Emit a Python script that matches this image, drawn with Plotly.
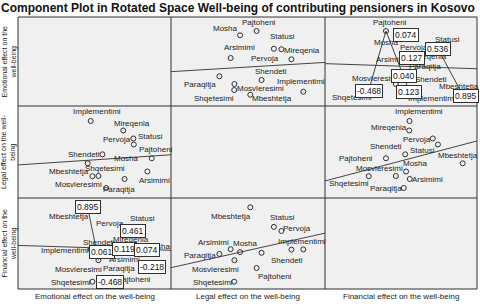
import numpy as np
import plotly.graph_objects as go

# ---------------- data (component loadings) ----------------
names = ["Pajtoheni", "Mosha", "Statusi", "Pervoja", "Arsimimi", "Mireqenia",
         "Paraqitja", "Shendeti", "Mosvleresimi", "Shqetesimi", "Implementimi", "Mbeshtetja"]
emotional = [0.850, 0.781, 0.565, 0.558, 0.418, 0.397, 0.125, 0.066, 0.002, -0.094, -0.121, -0.169]
legal = [0.238, 0.021, 0.464, 0.563, -0.102, 0.694, -0.250, 0.303, -0.053, -0.056, 0.850, 0.155]
financial = [-0.218, 0.074, 0.536, 0.461, 0.127, 0.119, 0.040, 0.061, -0.075, -0.468, 0.123, 0.895]

var_titles = ["Emotional effect on the well-being", "Legal effect on the well-being",
              "Financial effect on the well-being"]
row_titles = ["Emotional effect on the<br>well-being", "Legal effect on the well-<br>being",
              "Financial effect on the<br>well-being"]
title = "Component Plot in Rotated Space Well-being of contributing pensioners in Kosovo"

# ---------------- styling / layout ----------------
W, H = 480, 308
col_px = [(18, 171), (171, 325), (325, 477)]
row_px = [(17, 106), (106, 198), (198, 289)]
col_range = [[-1.278, 1.157], [-0.884, 1.134], [-1.103, 1.103]]
row_range = [[-0.35, 1.074], [-0.414, 1.096], [-0.602, 1.065]]

data = [emotional, legal, financial]
idx = {n: i for i, n in enumerate(names)}

# label offsets (label centre relative to its point, in pixels, +y = down) per panel (row, col)
label_off = {
    (0, 1): {"Pajtoheni": (2, -9), "Mosha": (-15, -7), "Statusi": (9, -12), "Mireqenia": (11, -9),
             "Arsimimi": (9, -11), "Pervoja": (-16, 9), "Shendeti": (9, -9), "Paraqitja": (-19, 8),
             "Mosvleresimi": (26, 4), "Implementimi": (-2, -10), "Shqetesimi": (-20, 8),
             "Mbeshtetja": (22, 4)},
    (0, 2): {"Pajtoheni": (4, -9), "Mosha": (-20, 7), "Statusi": (10, -9), "Pervoja": (-19, -2),
             "Arsimimi": (-18, 1), "Mireqenia": (20, -3), "Paraqitja": (21, -10), "Shendeti": (26, -1),
             "Mosvleresimi": (-20, -6), "Shqetesimi": (-17, 7), "Implementimi": (23, 7),
             "Mbeshtetja": (-4, -8)},
    (1, 0): {"Implementimi": (6, -9), "Mireqenia": (9, -7), "Pervoja": (-16, 1), "Statusi": (17, -8),
             "Pajtoheni": (4, -9), "Shendeti": (-18, 0), "Mosha": (-21, -13), "Mbeshtetja": (-19, 8),
             "Shqetesimi": (13, -8), "Mosvleresimi": (-20, 8), "Arsimimi": (30, 2),
             "Paraqitja": (13, 1)},
    (1, 2): {"Implementimi": (10, -9), "Mireqenia": (-20, -3), "Pervoja": (-16, 1), "Statusi": (-15, 6),
             "Shendeti": (-19, -8), "Pajtoheni": (-30, 0), "Mbeshtetja": (-5, -8), "Mosha": (9, -8),
             "Mosvleresimi": (-16, -8), "Shqetesimi": (-20, 7), "Arsimimi": (18, 1),
             "Paraqitja": (-18, 0)},
    (2, 0): {"Mbeshtetja": (-19, 9), "Statusi": (9, -8), "Pervoja": (-23, -7), "Shendeti": (-3, -10),
             "Mireqenia": (8, -10), "Mosha": (11, -6), "Implementimi": (-26, 1), "Arsimimi": (0, 10),
             "Mosvleresimi": (-20, 9), "Paraqitja": (13, 15), "Pajtoheni": (-18, 11),
             "Shqetesimi": (-21, 1)},
    (2, 1): {"Mbeshtetja": (-19, 9), "Statusi": (9, -9), "Pervoja": (16, -2), "Implementimi": (-1, -8),
             "Arsimimi": (-17, -7), "Mosha": (5, -9), "Paraqitja": (-19, 2), "Shendeti": (25, 8),
             "Mosvleresimi": (-19, 9), "Pajtoheni": (18, 8), "Shqetesimi": (-21, 1)},
}

# value labels (boxes) shown in some panels: name -> pixel shift
value_boxes = {
    (0, 2): {"Mosha": (0, 0), "Statusi": (0, 0), "Arsimimi": (2, 0), "Paraqitja": (0, 0),
             "Implementimi": (0, 0), "Shqetesimi": (0, 1), "Mbeshtetja": (3, 1)},
    (2, 0): {"Mbeshtetja": (0, 0), "Pervoja": (0, 0), "Shendeti": (0, -1), "Mireqenia": (1, -1),
             "Mosha": (0, -2), "Pajtoheni": (0, -1), "Shqetesimi": (18, 0)},
}
# connector segments drawn in some panels
segments = {
    (0, 2): [("Pajtoheni", "Shqetesimi"), ("Pajtoheni", "Implementimi"), ("Statusi", "Mbeshtetja")],
    (2, 0): [("Mbeshtetja", "Mosvleresimi")],
}

FONT = "Liberation Sans, Arial, sans-serif"
INK = "#303030"

fig = go.Figure()
layout_axes = {}
shapes = []
name_ann = []
box_ann = []
other_ann = []

for r in range(3):
    for c in range(3):
        n = r * 3 + c + 1
        xa = "xaxis" if n == 1 else f"xaxis{n}"
        ya = "yaxis" if n == 1 else f"yaxis{n}"
        xref = "x" if n == 1 else f"x{n}"
        yref = "y" if n == 1 else f"y{n}"
        x0, x1 = col_px[c]
        y0, y1 = row_px[r]
        layout_axes[xa] = dict(domain=[x0 / W, x1 / W], range=col_range[c], anchor=yref,
                               showgrid=False, zeroline=False, showticklabels=False, ticks="",
                               showline=False, fixedrange=True)
        layout_axes[ya] = dict(domain=[1 - y1 / H, 1 - y0 / H], range=row_range[r], anchor=xref,
                               showgrid=False, zeroline=False, showticklabels=False, ticks="",
                               showline=False, fixedrange=True)
        if r == c:
            continue
        xs = np.array(data[c])
        ys = np.array(data[r])
        # fit line (least squares)
        b, a = np.polyfit(xs, ys, 1)
        lx = np.array(col_range[c])
        fig.add_trace(go.Scatter(x=lx, y=a + b * lx, mode="lines", xaxis=xref, yaxis=yref,
                                 line=dict(color="#444444", width=1), hoverinfo="skip",
                                 showlegend=False))
        for p, q in segments.get((r, c), []):
            fig.add_trace(go.Scatter(x=[xs[idx[p]], xs[idx[q]]], y=[ys[idx[p]], ys[idx[q]]],
                                     mode="lines", xaxis=xref, yaxis=yref,
                                     line=dict(color="#444444", width=1), hoverinfo="skip",
                                     showlegend=False))
        fig.add_trace(go.Scatter(x=xs, y=ys, mode="markers", xaxis=xref, yaxis=yref,
                                 text=names, hoverinfo="text",
                                 marker=dict(symbol="circle-open", size=5,
                                             line=dict(color=INK, width=1), color=INK),
                                 showlegend=False))
        for nm, (dx, dy) in label_off[(r, c)].items():
            i = idx[nm]
            name_ann.append(dict(x=xs[i], y=ys[i], xref=xref, yref=yref, text=nm,
                                 showarrow=False, xshift=dx, yshift=-dy,
                                 xanchor="center", yanchor="middle",
                                 font=dict(family=FONT, size=8, color="#222222")))
        for nm, (dx, dy) in value_boxes.get((r, c), {}).items():
            i = idx[nm]
            v = financial[i]
            box_ann.append(dict(x=xs[i], y=ys[i], xref=xref, yref=yref, text=f"{v:.3f}",
                                showarrow=False, xshift=dx, yshift=-dy,
                                xanchor="center", yanchor="middle",
                                font=dict(family=FONT, size=8.5, color="#111111"),
                                bgcolor="white", bordercolor=INK, borderwidth=1, borderpad=1))

# panel background + borders
shapes.append(dict(type="rect", xref="paper", yref="paper", x0=18 / W, x1=477 / W,
                   y0=1 - 289 / H, y1=1 - 17 / H, fillcolor="#f0f0f0",
                   line=dict(color=INK, width=1), layer="below"))
for xp in (171, 325):
    shapes.append(dict(type="line", xref="paper", yref="paper", x0=xp / W, x1=xp / W,
                       y0=1 - 289 / H, y1=1 - 17 / H, line=dict(color=INK, width=1)))
for yp in (106, 198):
    shapes.append(dict(type="line", xref="paper", yref="paper", x0=18 / W, x1=477 / W,
                       y0=1 - yp / H, y1=1 - yp / H, line=dict(color=INK, width=1)))

# axis titles
for c in range(3):
    x0, x1 = col_px[c]
    other_ann.append(dict(x=(x0 + x1) / 2 / W, y=1 - 296 / H, xref="paper", yref="paper",
                          xanchor="center", yanchor="middle",
                          text=var_titles[c], showarrow=False,
                          font=dict(family=FONT, size=8, color="#222222")))
for r in range(3):
    y0, y1 = row_px[r]
    other_ann.append(dict(x=9 / W, y=1 - (y0 + y1) / 2 / H, xref="paper", yref="paper",
                          xanchor="center", yanchor="middle",
                          text=row_titles[r], showarrow=False, textangle=-90,
                          font=dict(family=FONT, size=7, color="#222222")))
# title
other_ann.append(dict(x=238 / W, y=1 - 8 / H, xref="paper", yref="paper", text=f"<b>{title}</b>",
                      xanchor="center", yanchor="middle",
                      showarrow=False, font=dict(family=FONT, size=12, color="#111111")))

fig.update_layout(width=W, height=H, margin=dict(l=0, r=0, t=0, b=0),
                  paper_bgcolor="white", plot_bgcolor="rgba(0,0,0,0)",
                  shapes=shapes, annotations=name_ann + box_ann + other_ann,
                  showlegend=False, **layout_axes)

fig.write_html("out.html", config={"displayModeBar": False},
               post_script="document.body.style.margin='0';document.body.style.overflow='hidden';")
